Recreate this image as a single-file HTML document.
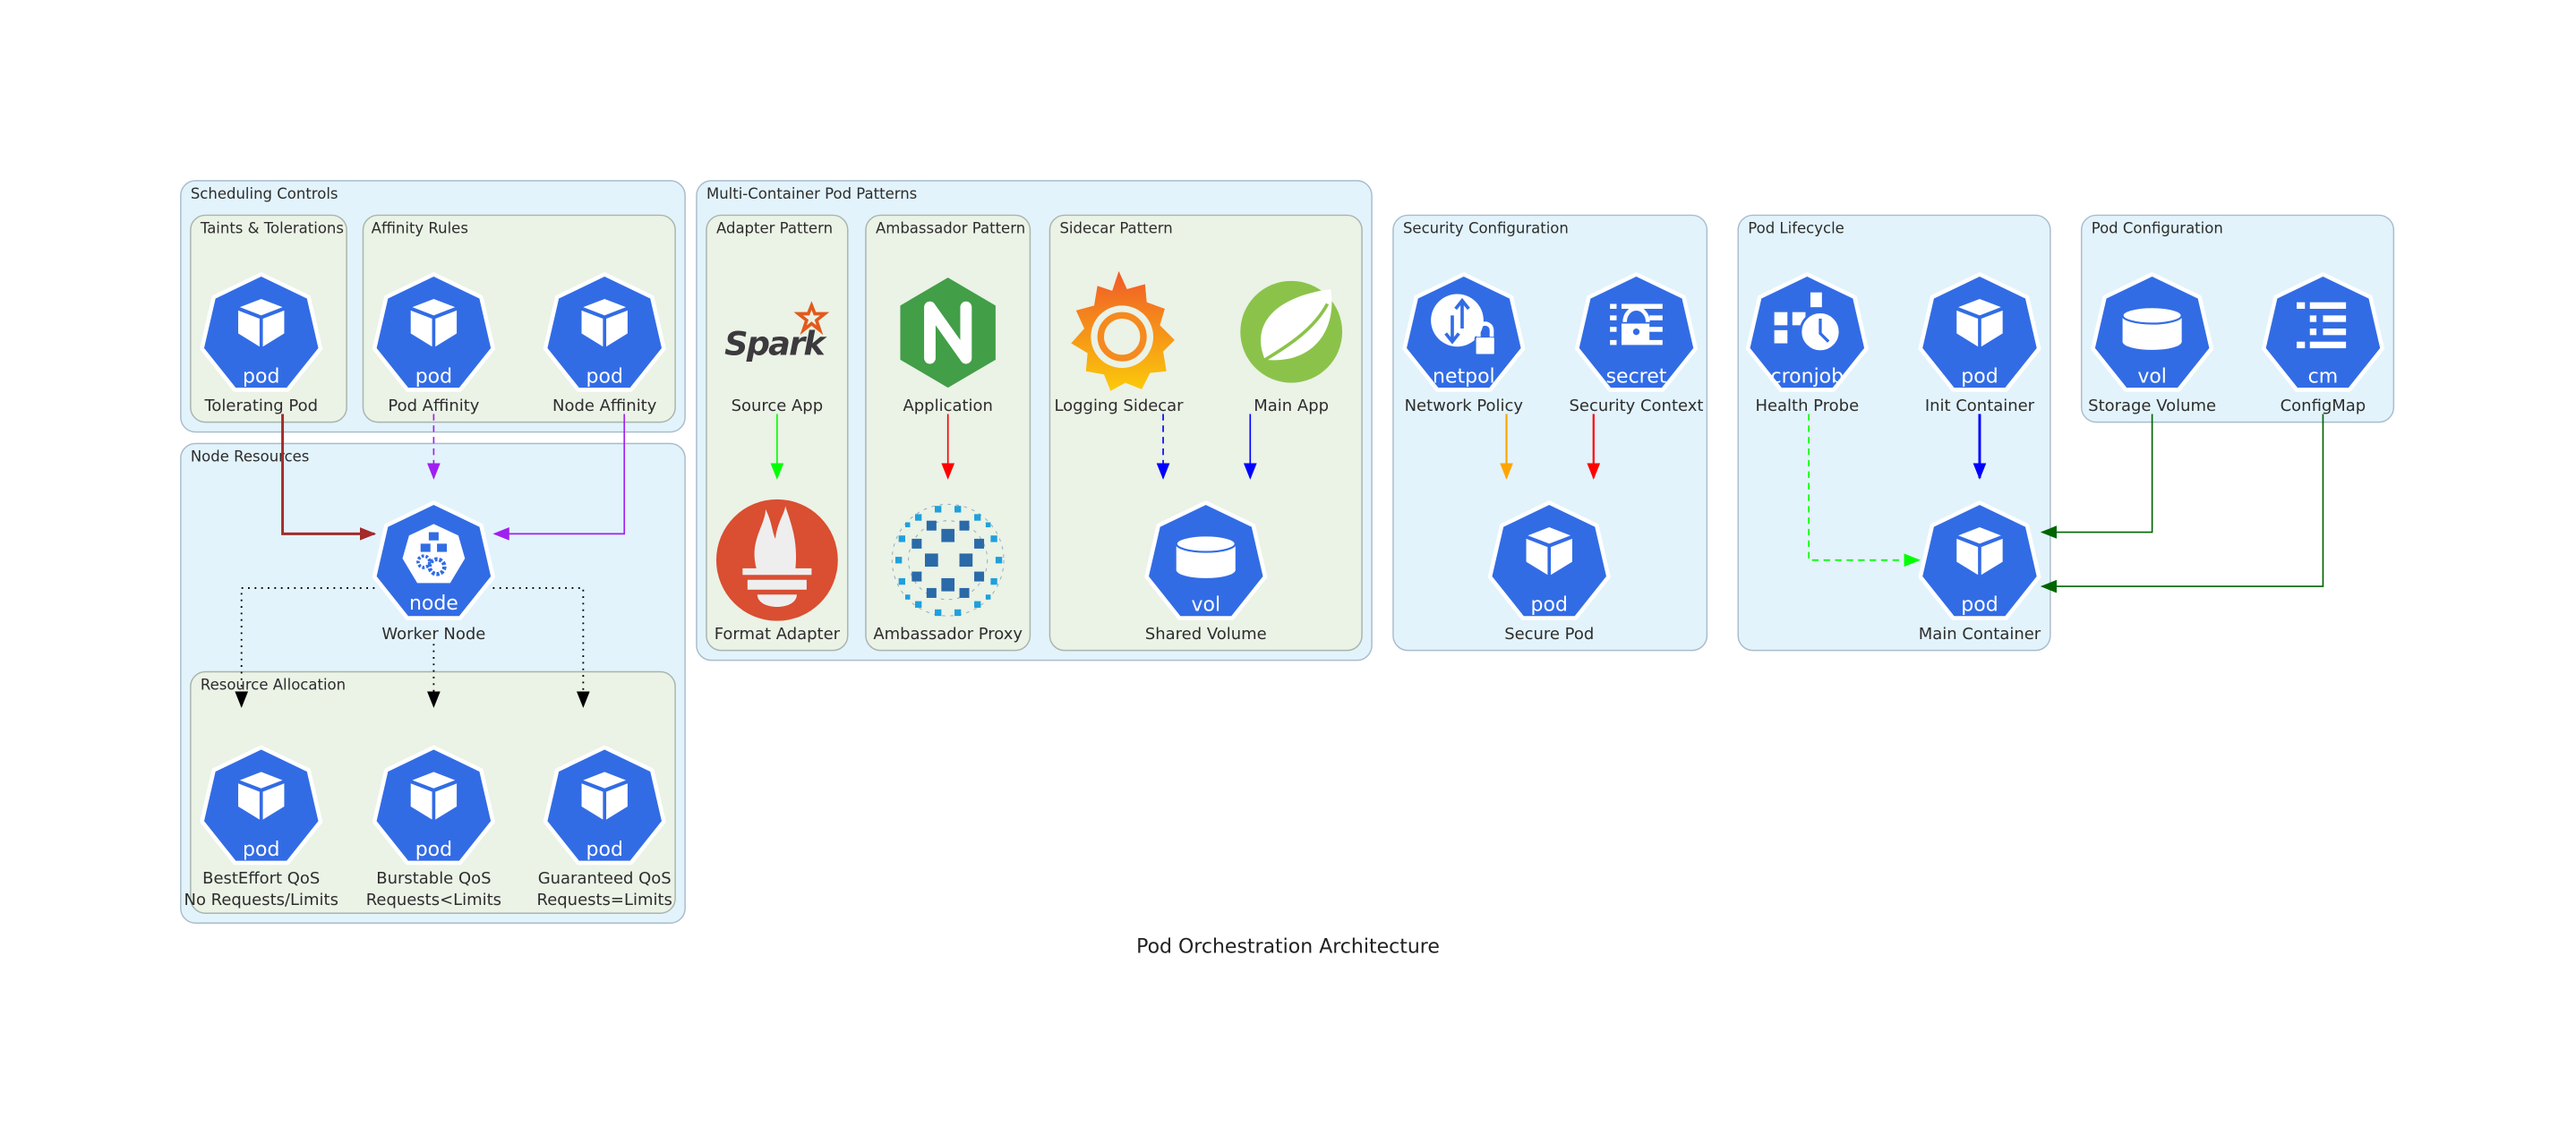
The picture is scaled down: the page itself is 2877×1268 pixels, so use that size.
<!DOCTYPE html>
<html><head><meta charset="utf-8"><style>
html,body{margin:0;padding:0;background:#fff;}
svg{display:block;}
text{font-family:"DejaVu Sans","Liberation Sans",sans-serif;}
.cl{font-size:9px;fill:#2d2d2d;}
.lb{font-size:9.8px;fill:#2d2d2d;text-anchor:middle;}
.it{font-size:12px;fill:#fff;text-anchor:middle;}
.c1{fill:#e2f3fb;stroke:#a9bccb;stroke-width:0.8;}
.c2{fill:#ebf2e6;stroke:#a9b4ad;stroke-width:0.8;}
</style></head><body>
<svg width="2877" height="1268" viewBox="0 0 1568 691" xmlns="http://www.w3.org/2000/svg">
<defs>
<polygon id="hep" points="0,-37 28.9,-23.1 36.1,8.2 16.1,33.3 -16.1,33.3 -36.1,8.2 -28.9,-23.1" fill="#326ce5" stroke="#fff" stroke-width="2.5" stroke-linejoin="round"/>
<g id="cube" fill="#fff">
<polygon points="0,-22 -13,-17 0,-12 13,-17"/>
<polygon points="-14,-15 -1,-10 -1,7 -14,-1"/>
<polygon points="14,-15 1,-10 1,7 14,-1"/>
</g>
<g id="pod"><use href="#hep"/><use href="#cube"/><text class="it" y="29">pod</text></g>
<marker id="ab" markerWidth="10" markerHeight="8" refX="9" refY="4" orient="auto" markerUnits="userSpaceOnUse"><path d="M0,0 L10,4 L0,8z" fill="#a52a2a"/></marker>
<marker id="ap" markerWidth="10" markerHeight="8" refX="9" refY="4" orient="auto" markerUnits="userSpaceOnUse"><path d="M0,0 L10,4 L0,8z" fill="#a020f0"/></marker>
<marker id="ak" markerWidth="10" markerHeight="8" refX="9" refY="4" orient="auto" markerUnits="userSpaceOnUse"><path d="M0,0 L10,4 L0,8z" fill="#000"/></marker>
<marker id="ag" markerWidth="10" markerHeight="8" refX="9" refY="4" orient="auto" markerUnits="userSpaceOnUse"><path d="M0,0 L10,4 L0,8z" fill="#00ff00"/></marker>
<marker id="ar" markerWidth="10" markerHeight="8" refX="9" refY="4" orient="auto" markerUnits="userSpaceOnUse"><path d="M0,0 L10,4 L0,8z" fill="#ff0000"/></marker>
<marker id="abl" markerWidth="10" markerHeight="8" refX="9" refY="4" orient="auto" markerUnits="userSpaceOnUse"><path d="M0,0 L10,4 L0,8z" fill="#0000ff"/></marker>
<marker id="ao" markerWidth="10" markerHeight="8" refX="9" refY="4" orient="auto" markerUnits="userSpaceOnUse"><path d="M0,0 L10,4 L0,8z" fill="#ffa500"/></marker>
<marker id="adg" markerWidth="10" markerHeight="8" refX="9" refY="4" orient="auto" markerUnits="userSpaceOnUse"><path d="M0,0 L10,4 L0,8z" fill="#006400"/></marker>
</defs>

<rect class="c1" x="110" y="110" width="307" height="153" rx="9"/>
<text class="cl" x="116" y="121">Scheduling Controls</text>
<rect class="c2" x="116" y="131" width="95" height="126" rx="9"/>
<text class="cl" x="122" y="142">Taints &amp; Tolerations</text>
<rect class="c2" x="221" y="131" width="190" height="126" rx="9"/>
<text class="cl" x="226" y="142">Affinity Rules</text>

<rect class="c1" x="110" y="270" width="307" height="292" rx="9"/>
<text class="cl" x="116" y="281">Node Resources</text>
<rect class="c2" x="116" y="409" width="295" height="147" rx="9"/>
<text class="cl" x="122" y="420">Resource Allocation</text>

<rect class="c1" x="424" y="110" width="411" height="292" rx="9"/>
<text class="cl" x="430" y="121">Multi-Container Pod Patterns</text>
<rect class="c2" x="430" y="131" width="86" height="265" rx="9"/>
<text class="cl" x="436" y="142">Adapter Pattern</text>
<rect class="c2" x="527" y="131" width="100" height="265" rx="9"/>
<text class="cl" x="533" y="142">Ambassador Pattern</text>
<rect class="c2" x="639" y="131" width="190" height="265" rx="9"/>
<text class="cl" x="645" y="142">Sidecar Pattern</text>

<rect class="c1" x="848" y="131" width="191" height="265" rx="9"/>
<text class="cl" x="854" y="142">Security Configuration</text>
<rect class="c1" x="1058" y="131" width="190" height="265" rx="9"/>
<text class="cl" x="1064" y="142">Pod Lifecycle</text>
<rect class="c1" x="1267" y="131" width="190" height="126" rx="9"/>
<text class="cl" x="1273" y="142">Pod Configuration</text>

<g fill="none">
<path d="M172,252 V325 H228" stroke="#a52a2a" stroke-width="1.6" marker-end="url(#ab)"/>
<path d="M264,252 V291" stroke="#a020f0" stroke-width="0.9" stroke-dasharray="4,3" marker-end="url(#ap)"/>
<path d="M380,252 V325 H301" stroke="#a020f0" stroke-width="0.9" marker-end="url(#ap)"/>
<path d="M228,358 H147 V430" stroke="#000" stroke-width="1" stroke-dasharray="1,3" marker-end="url(#ak)"/>
<path d="M264,392 V430" stroke="#000" stroke-width="1" stroke-dasharray="1,3" marker-end="url(#ak)"/>
<path d="M300,358 H355 V430" stroke="#000" stroke-width="1" stroke-dasharray="1,3" marker-end="url(#ak)"/>
<path d="M473,252 V291" stroke="#00ff00" stroke-width="0.9" marker-end="url(#ag)"/>
<path d="M577,252 V291" stroke="#ff0000" stroke-width="0.9" marker-end="url(#ar)"/>
<path d="M708,252 V291" stroke="#0000ff" stroke-width="0.9" stroke-dasharray="4,3" marker-end="url(#abl)"/>
<path d="M761,252 V291" stroke="#0000ff" stroke-width="0.9" marker-end="url(#abl)"/>
<path d="M917,252 V291" stroke="#ffa500" stroke-width="1.2" marker-end="url(#ao)"/>
<path d="M970,252 V291" stroke="#ff0000" stroke-width="1.2" marker-end="url(#ar)"/>
<path d="M1101,252 V341 H1168" stroke="#00ff00" stroke-width="0.9" stroke-dasharray="4,3" marker-end="url(#ag)"/>
<path d="M1205,252 V291" stroke="#0000ff" stroke-width="1.6" marker-end="url(#abl)"/>
<path d="M1310,252 V324 H1243" stroke="#006400" stroke-width="0.9" marker-end="url(#adg)"/>
<path d="M1414,252 V357 H1243" stroke="#006400" stroke-width="0.9" marker-end="url(#adg)"/>
</g>

<use href="#pod" x="159" y="204"/><text class="lb" x="159" y="250">Tolerating Pod</text>
<use href="#pod" x="264" y="204"/><text class="lb" x="264" y="250">Pod Affinity</text>
<use href="#pod" x="368" y="204"/><text class="lb" x="368" y="250">Node Affinity</text>

<g transform="translate(264,343)">
<use href="#hep"/>
<polygon points="0,-24 15,-17 19,-3 10,12 -10,12 -19,-3 -15,-17" fill="#fff"/>
<rect x="-3" y="-19" width="6" height="5" fill="#326ce5"/>
<rect x="-8" y="-12" width="6" height="5" fill="#326ce5"/>
<rect x="2" y="-12" width="6" height="5" fill="#326ce5"/>
<circle cx="-6" cy="-1" r="3.5" fill="none" stroke="#326ce5" stroke-width="2" stroke-dasharray="1.5,1"/>
<circle cx="2" cy="2" r="4.5" fill="none" stroke="#326ce5" stroke-width="2.5" stroke-dasharray="1.8,1"/>
<text class="it" y="28">node</text>
</g>
<text class="lb" x="264" y="389">Worker Node</text>

<use href="#pod" x="159" y="492"/><text class="lb" x="159" y="538">BestEffort QoS</text><text class="lb" x="159" y="551">No Requests/Limits</text>
<use href="#pod" x="264" y="492"/><text class="lb" x="264" y="538">Burstable QoS</text><text class="lb" x="264" y="551">Requests&lt;Limits</text>
<use href="#pod" x="368" y="492"/><text class="lb" x="368" y="538">Guaranteed QoS</text><text class="lb" x="368" y="551">Requests=Limits</text>

<text x="441" y="216" style="font-size:20px;font-weight:bold;font-style:italic;fill:#3c3a3e;letter-spacing:-1px">Spark</text>
<polygon points="494,186 496,191 502,191 497,195 499,201 494,197 489,201 491,195 486,191 492,191" fill="none" stroke="#e25a1c" stroke-width="2"/>
<text class="lb" x="473" y="250">Source App</text>
<ellipse cx="473" cy="341" rx="37" ry="37" fill="#da4e31"/>
<path d="M461,348 C455,330 466,320 466,310 C470,318 470,324 472,328 C473,318 478,312 478,308 C482,320 486,330 484,348 Z" fill="#eee"/>
<rect x="455" y="353" width="36" height="6" fill="#eee"/>
<path d="M461,362 H485 C485,372 461,372 461,362 Z" fill="#eee"/>
<rect x="452" y="346" width="42" height="4" fill="#eee"/>
<text class="lb" x="473" y="389">Format Adapter</text>

<polygon points="577,169 606,186 606,219 577,236 548,219 548,186" fill="#429e47"/>
<path d="M566,218 V187 L588,218 V187" fill="none" stroke="#fff" stroke-width="7" stroke-linejoin="round" stroke-linecap="round"/>
<text class="lb" x="577" y="250">Application</text>
<circle cx="577" cy="341" r="34" fill="none" stroke="#8ab" stroke-width="0.5" stroke-dasharray="2,3"/>
<circle cx="577" cy="341" r="24" fill="none" stroke="#8ab" stroke-width="0.5" stroke-dasharray="2,3"/>
<g fill="#2a6aa8">
<rect x="573" y="322" width="8" height="8"/><rect x="573" y="352" width="8" height="8"/>
<rect x="563" y="337" width="8" height="8"/><rect x="584" y="337" width="8" height="8"/>
<rect x="564" y="317" width="6" height="6"/><rect x="584" y="317" width="6" height="6"/>
<rect x="564" y="358" width="6" height="6"/><rect x="584" y="358" width="6" height="6"/>
<rect x="555" y="328" width="6" height="6"/><rect x="593" y="328" width="6" height="6"/>
<rect x="555" y="348" width="6" height="6"/><rect x="593" y="348" width="6" height="6"/>
</g>
<g fill="#1fa0dc">
<rect x="547" y="326" width="4" height="4"/><rect x="603" y="326" width="4" height="4"/>
<rect x="547" y="352" width="4" height="4"/><rect x="603" y="352" width="4" height="4"/>
<rect x="557" y="313" width="4" height="4"/><rect x="593" y="313" width="4" height="4"/>
<rect x="557" y="366" width="4" height="4"/><rect x="593" y="366" width="4" height="4"/>
<rect x="569" y="308" width="4" height="4"/><rect x="581" y="308" width="4" height="4"/>
<rect x="569" y="371" width="4" height="4"/><rect x="581" y="371" width="4" height="4"/>
<rect x="545" y="339" width="4" height="4"/><rect x="606" y="339" width="4" height="4"/>
<rect x="551" y="318" width="3" height="3"/><rect x="600" y="318" width="3" height="3"/>
<rect x="551" y="362" width="3" height="3"/><rect x="600" y="362" width="3" height="3"/>
</g>
<text class="lb" x="577" y="389">Ambassador Proxy</text>

<defs><linearGradient id="gf" x1="0" y1="0" x2="0" y2="1"><stop offset="0" stop-color="#f05a28"/><stop offset="1" stop-color="#fbca0a"/></linearGradient></defs>
<path d="M681,165 L686,176 L697,173 L698,184 L709,188 L706,198 L715,207 L708,214 L710,226 L700,227 L695,237 L685,233 L676,238 L672,228 L661,226 L662,215 L652,209 L660,200 L655,189 L666,186 L668,174 L677,177 Z" fill="url(#gf)"/>
<circle cx="683" cy="205" r="19" fill="#ebf2e6"/>
<circle cx="683" cy="205" r="13" fill="none" stroke="#f58a1f" stroke-width="4"/>
<circle cx="686" cy="207" r="5" fill="#ebf2e6"/>
<text class="lb" x="681" y="250">Logging Sidecar</text>
<ellipse cx="786" cy="202" rx="31" ry="31" fill="#8bc34a"/>
<path d="M770,219 C760,195 780,180 810,176 C814,200 800,222 770,219 Z" fill="#fff"/>
<path d="M770,219 C785,210 800,200 808,185" fill="none" stroke="#8bc34a" stroke-width="2"/>
<text class="lb" x="786" y="250">Main App</text>
<g transform="translate(734,343)">
<use href="#hep"/>
<rect x="-18" y="-12" width="36" height="16" fill="#fff"/>
<ellipse cx="0" cy="4" rx="18" ry="5" fill="#fff"/>
<ellipse cx="0" cy="-12" rx="18" ry="5" fill="#fff" stroke="#326ce5" stroke-width="1.2"/>
<text class="it" y="29">vol</text>
</g>
<text class="lb" x="734" y="389">Shared Volume</text>

<g transform="translate(891,204)">
<use href="#hep"/>
<circle cx="-4" cy="-9" r="16" fill="#fff"/>
<path d="M-1,-20 V-4 M-5,-16 L-1,-21 L3,-16 M-7,-12 V3 M-11,-1 L-7,4 L-3,-1" stroke="#326ce5" stroke-width="2" fill="none"/>
<rect x="7" y="1" width="12" height="11" rx="1" fill="#fff" stroke="#326ce5" stroke-width="1"/>
<path d="M9,1 V-3 A4,4 0 0 1 17,-3 V1" fill="none" stroke="#fff" stroke-width="2.5"/>
<text class="it" y="29">netpol</text>
</g>
<text class="lb" x="891" y="250">Network Policy</text>
<g transform="translate(996,204)" fill="#fff">
<use href="#hep"/>
<rect x="-16" y="-19" width="4" height="3"/><rect x="-9" y="-19" width="25" height="3"/>
<rect x="-16" y="-12" width="4" height="3"/><rect x="8" y="-12" width="8" height="3"/>
<rect x="-16" y="-5" width="4" height="3"/><rect x="8" y="-5" width="8" height="3"/>
<rect x="-16" y="3" width="4" height="3"/><rect x="-9" y="3" width="25" height="3"/>
<path d="M-7,-8 A6,7 0 0 1 7,-8" fill="none" stroke="#fff" stroke-width="2.5"/>
<rect x="-9" y="-7" width="17" height="12"/>
<circle cx="0" cy="-2" r="2" fill="#326ce5"/>
<text class="it" y="29">secret</text>
</g>
<text class="lb" x="996" y="250">Security Context</text>
<use href="#pod" x="943" y="343"/><text class="lb" x="943" y="389">Secure Pod</text>

<g transform="translate(1100,204)" fill="#fff">
<use href="#hep"/>
<rect x="2" y="-26" width="7" height="9"/>
<rect x="-20" y="-14" width="8" height="8"/><rect x="-9" y="-14" width="8" height="8"/>
<rect x="-20" y="-3" width="8" height="8"/>
<circle cx="8" cy="-2" r="12" stroke="#326ce5" stroke-width="1.5"/>
<path d="M8,-10 V-1 L13,4" fill="none" stroke="#326ce5" stroke-width="1.8"/>
<text class="it" y="29">cronjob</text>
</g>
<text class="lb" x="1100" y="250">Health Probe</text>
<use href="#pod" x="1205" y="204"/><text class="lb" x="1205" y="250">Init Container</text>
<use href="#pod" x="1205" y="343"/><text class="lb" x="1205" y="389">Main Container</text>

<g transform="translate(1310,204)">
<use href="#hep"/>
<rect x="-18" y="-12" width="36" height="16" fill="#fff"/>
<ellipse cx="0" cy="4" rx="18" ry="5" fill="#fff"/>
<ellipse cx="0" cy="-12" rx="18" ry="5" fill="#fff" stroke="#326ce5" stroke-width="1.2"/>
<text class="it" y="29">vol</text>
</g>
<text class="lb" x="1310" y="250">Storage Volume</text>
<g transform="translate(1414,204)" fill="#fff">
<use href="#hep"/>
<rect x="-16" y="-20" width="5" height="4"/><rect x="-8" y="-20" width="22" height="4"/>
<rect x="-8" y="-12" width="4" height="4"/><rect x="0" y="-12" width="14" height="4"/>
<rect x="-8" y="-4" width="4" height="4"/><rect x="0" y="-4" width="14" height="4"/>
<rect x="-16" y="4" width="5" height="4"/><rect x="-8" y="4" width="22" height="4"/>
<text class="it" y="29">cm</text>
</g>
<text class="lb" x="1414" y="250">ConfigMap</text>

<text x="784" y="580" style="font-size:12px;fill:#222;text-anchor:middle">Pod Orchestration Architecture</text>
</svg>
</body></html>
